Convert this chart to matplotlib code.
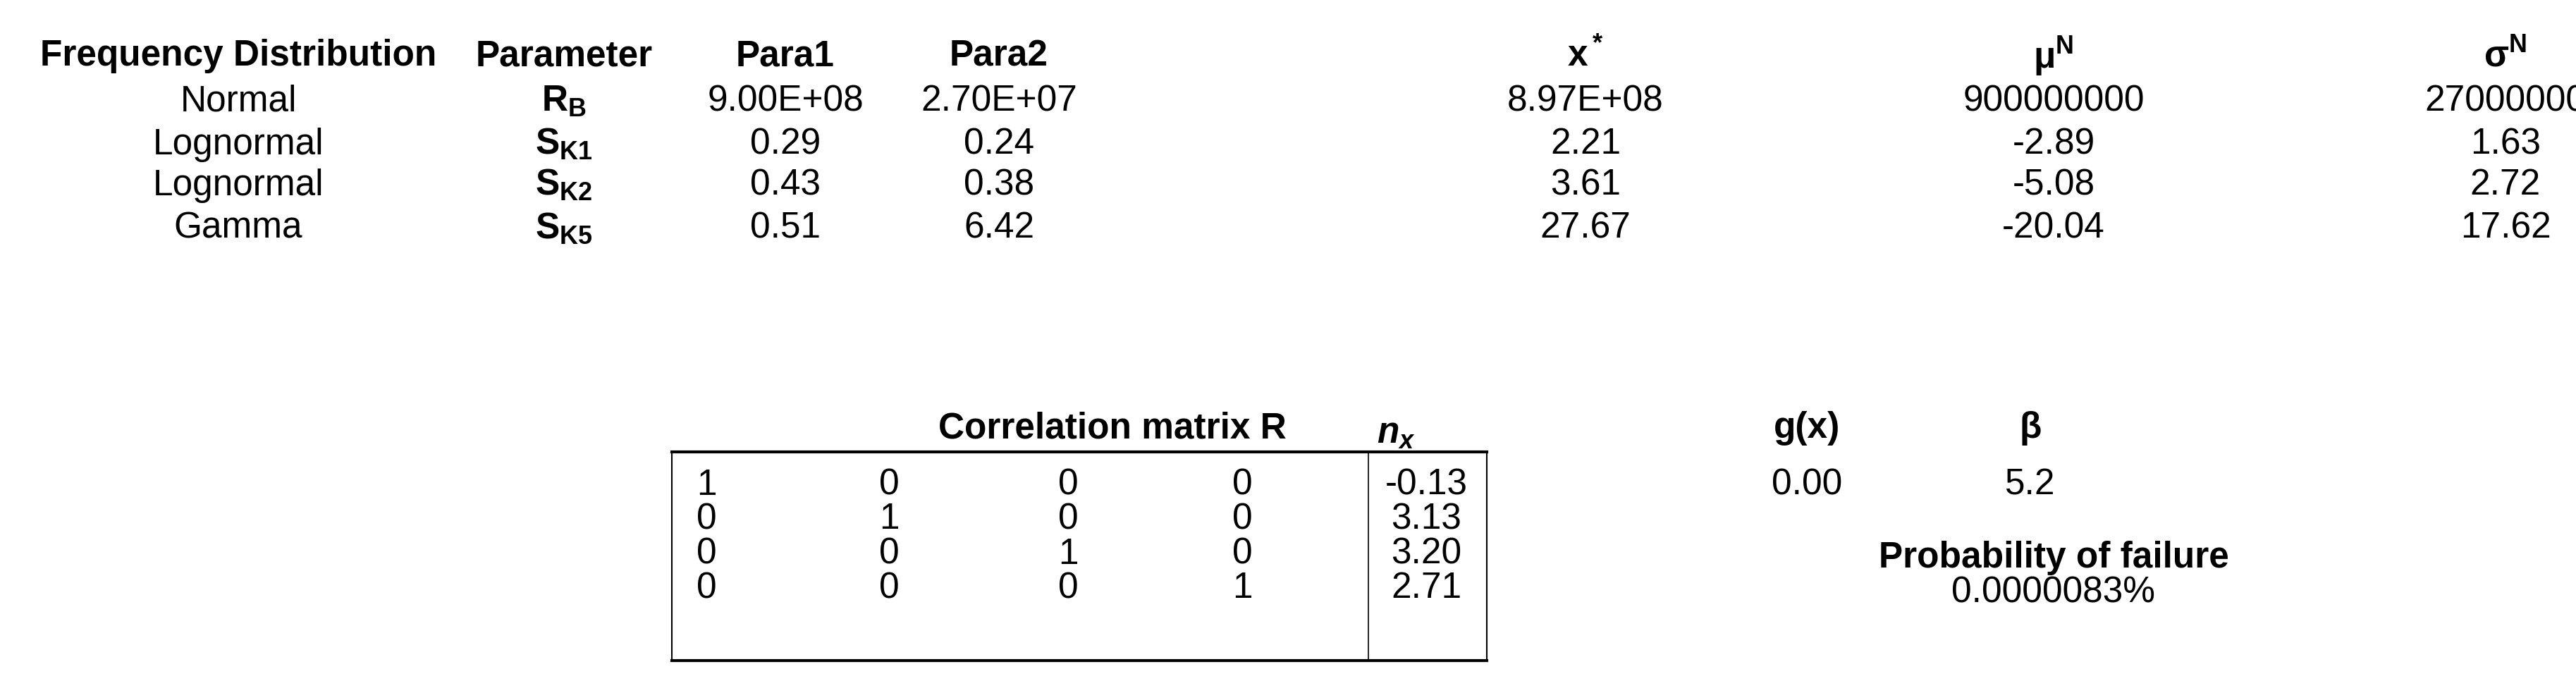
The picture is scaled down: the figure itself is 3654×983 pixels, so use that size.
import matplotlib.pyplot as plt

plt.rcParams['font.family'] = ['Liberation Sans', 'DejaVu Sans']
plt.rcParams['mathtext.fontset'] = 'custom'
plt.rcParams['mathtext.rm'] = 'Liberation Sans'
plt.rcParams['mathtext.bf'] = 'Liberation Sans:bold'
plt.rcParams['mathtext.it'] = 'Liberation Sans:italic'
plt.rcParams['mathtext.bfit'] = 'Liberation Sans:bold:italic'

headers = ['Frequency Distribution', 'Parameter', 'Para1', 'Para2',
           r'$\mathbf{x^*}$', r'$\mathbf{\mu^N}$', r'$\mathbf{\sigma^N}$']
dists = ['Normal', 'Lognormal', 'Lognormal', 'Gamma']
params = [r'$\mathbf{R_B}$', r'$\mathbf{S_{K1}}$', r'$\mathbf{S_{K2}}$', r'$\mathbf{S_{K5}}$']
para1 = ['9.00E+08', '0.29', '0.43', '0.51']
para2 = ['2.70E+07', '0.24', '0.38', '6.42']
xstar = ['8.97E+08', '2.21', '3.61', '27.67']
mu_n = ['900000000', '-2.89', '-5.08', '-20.04']
sigma_n = ['27000000', '1.63', '2.72', '17.62']

corr = [[1, 0, 0, 0], [0, 1, 0, 0], [0, 0, 1, 0], [0, 0, 0, 1]]
n_x = ['-0.13', '3.13', '3.20', '2.71']
g_x = '0.00'
beta = '5.2'
p_fail = '0.0000083%'

W, H = 3654, 983
fig = plt.figure(figsize=(W / 100, H / 100), dpi=100)
ax = fig.add_axes([0, 0, 1, 1])
ax.set_xlim(0, W)
ax.set_ylim(H, 0)
ax.axis('off')

fs = 37

def t(x, y, s, bold=False):
    ax.text(x, y, s, ha='center', va='center', fontsize=fs,
            fontweight='bold' if bold else 'normal')

col_x = [338, 800, 1114, 1417, 2249, 2913, 3554]
for x, h in zip(col_x, headers):
    t(x, 80, h, bold=True)

row_y = [144, 205, 263, 324]
for i, y in enumerate(row_y):
    for x, v in zip(col_x, [dists[i], params[i], para1[i], para2[i],
                            xstar[i], mu_n[i], sigma_n[i]]):
        t(x, y, v)

# correlation block
t(1578, 608, 'Correlation matrix R', bold=True)
t(1981, 615, r'$\mathbfit{n}_{\mathbfit{x}}$')
left, right, div, top, bot = 953, 2109, 1941, 641, 937
ax.plot([left, right], [top, top], color='black', lw=3)
ax.plot([left, right], [bot, bot], color='black', lw=3)
ax.plot([left, left], [top, bot], color='black', lw=1.5)
ax.plot([right, right], [top, bot], color='black', lw=1.5)
ax.plot([div, div], [top, bot], color='black', lw=1.2)

mcols = [1002, 1261, 1515, 1762]
nx_col = 2023
mrows = [688, 737, 786, 835]
for i, y in enumerate(mrows):
    for j, x in enumerate(mcols):
        t(x, y, str(corr[i][j]))
    t(nx_col, y, n_x[i])

t(2563, 608, 'g(x)', bold=True)
t(2880, 608, r'$\mathbf{\beta}$')
t(2563, 688, g_x)
t(2880, 688, beta)
t(2913, 792, 'Probability of failure', bold=True)
t(2913, 841, p_fail)

fig.savefig('out.png', dpi=100, facecolor='white')
